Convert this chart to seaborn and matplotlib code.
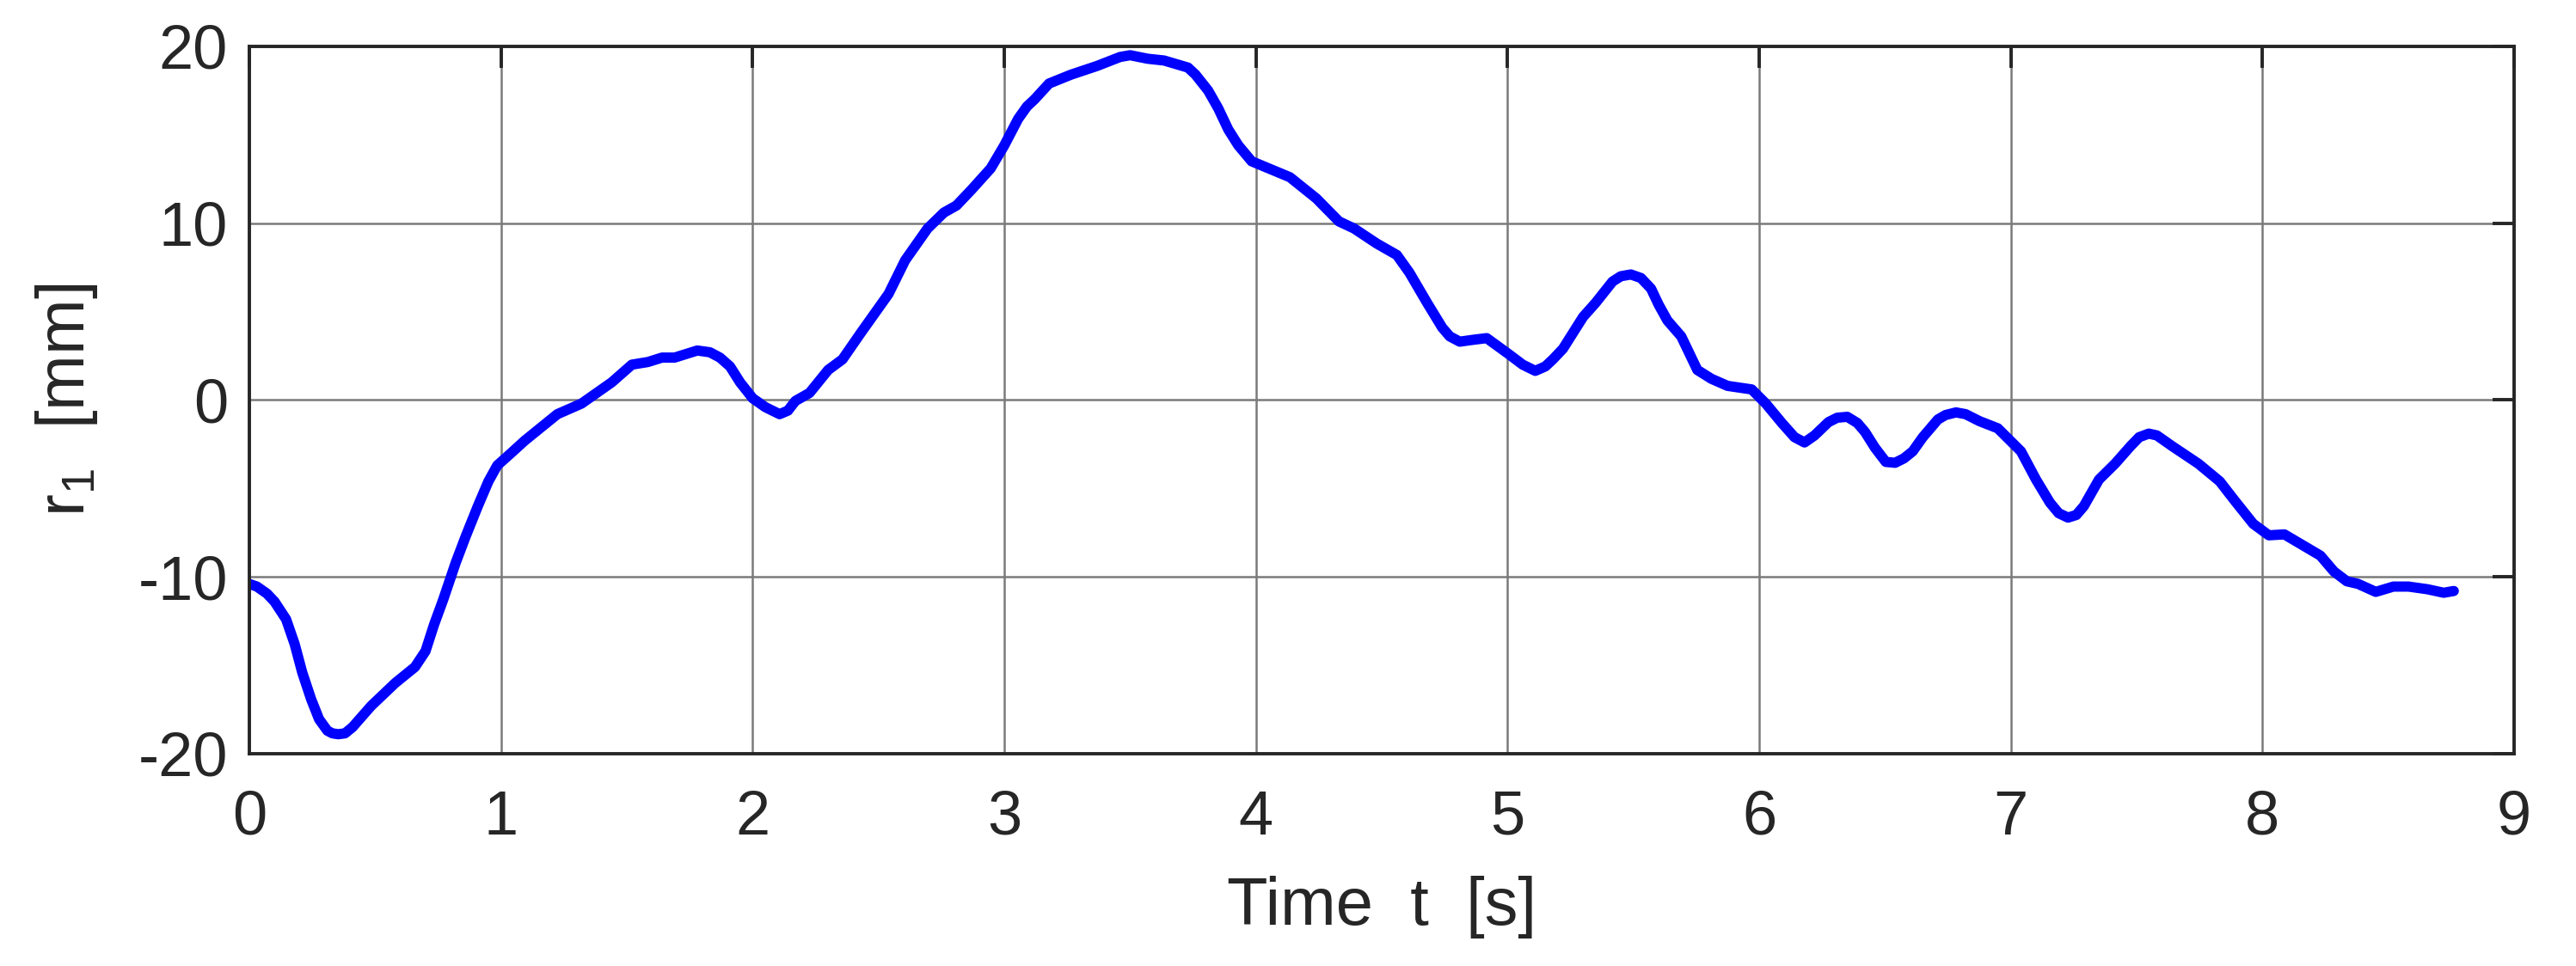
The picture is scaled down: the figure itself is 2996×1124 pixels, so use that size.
import pandas as pd
import numpy as np
import matplotlib
matplotlib.use('Agg')
import matplotlib.pyplot as plt
import seaborn as sns

# values
time_s = [0.00, 0.03, 0.07, 0.10, 0.146, 0.18, 0.21, 0.245, 0.277, 0.31, 0.33, 0.353,
          0.38, 0.41, 0.484, 0.58, 0.658, 0.70, 0.734, 0.77, 0.82, 0.86, 0.908, 0.95,
          0.985, 1.04, 1.094, 1.224, 1.32, 1.39, 1.44, 1.52, 1.584, 1.64, 1.69, 1.78,
          1.83, 1.87, 1.91, 1.95, 2.00, 2.05, 2.107, 2.14, 2.17, 2.226, 2.30, 2.357,
          2.43, 2.54, 2.606, 2.695, 2.76, 2.81, 2.87, 2.946, 3.00, 3.055, 3.09, 3.12,
          3.178, 3.265, 3.37, 3.46, 3.50, 3.57, 3.635, 3.73, 3.76, 3.81, 3.85, 3.89,
          3.93, 3.983, 4.135, 4.24, 4.33, 4.39, 4.48, 4.56, 4.61, 4.68, 4.74, 4.77,
          4.81, 4.86, 4.917, 5.004, 5.06, 5.11, 5.15, 5.18, 5.22, 5.30, 5.35, 5.417,
          5.45, 5.49, 5.53, 5.57, 5.60, 5.635, 5.69, 5.754, 5.81, 5.874, 5.97, 6.026,
          6.09, 6.14, 6.18, 6.22, 6.275, 6.31, 6.35, 6.39, 6.42, 6.46, 6.503, 6.54,
          6.575, 6.61, 6.65, 6.71, 6.74, 6.782, 6.82, 6.876, 6.948, 7.04, 7.10, 7.155,
          7.19, 7.227, 7.26, 7.29, 7.35, 7.414, 7.476, 7.51, 7.548, 7.58, 7.64, 7.745,
          7.83, 7.89, 7.963, 8.025, 8.087, 8.17, 8.23, 8.284, 8.335, 8.38, 8.45, 8.52,
          8.58, 8.655, 8.72, 8.76]
r1_mm = [-10.4, -10.55, -10.95, -11.4, -12.4, -13.8, -15.4, -16.9, -18.05, -18.7, -18.85, -18.9,
         -18.85, -18.5, -17.3, -16.0, -15.1, -14.2, -12.7, -11.3, -9.2, -7.7, -6.0, -4.6,
         -3.7, -3.0, -2.3, -0.8, -0.2, 0.5, 1.0, 2.0, 2.15, 2.4, 2.4, 2.8,
         2.7, 2.4, 1.9, 1.0, 0.1, -0.4, -0.8, -0.6, -0.05, 0.4, 1.7, 2.3,
         3.8, 6.0, 7.9, 9.7, 10.6, 11.0, 11.9, 13.1, 14.4, 15.9, 16.6, 17.0,
         17.9, 18.4, 18.9, 19.4, 19.5, 19.3, 19.2, 18.8, 18.4, 17.5, 16.5, 15.3,
         14.4, 13.5, 12.6, 11.4, 10.1, 9.7, 8.85, 8.2, 7.2, 5.5, 4.1, 3.6,
         3.3, 3.4, 3.5, 2.6, 2.0, 1.65, 1.9, 2.3, 2.9, 4.7, 5.5, 6.7,
         7.0, 7.1, 6.9, 6.3, 5.4, 4.5, 3.6, 1.7, 1.2, 0.8, 0.6, -0.2,
         -1.3, -2.1, -2.4, -2.0, -1.25, -1.0, -0.95, -1.3, -1.8, -2.7, -3.5, -3.55,
         -3.3, -2.9, -2.1, -1.1, -0.85, -0.7, -0.8, -1.2, -1.6, -2.9, -4.5, -5.8,
         -6.4, -6.65, -6.5, -6.0, -4.5, -3.6, -2.6, -2.1, -1.9, -2.0, -2.6, -3.6,
         -4.6, -5.7, -7.0, -7.65, -7.6, -8.3, -8.8, -9.7, -10.25, -10.4, -10.85, -10.55,
         -10.55, -10.7, -10.9, -10.8]
x_ticks = [0, 1, 2, 3, 4, 5, 6, 7, 8, 9]
y_ticks = [-20, -10, 0, 10, 20]

df = pd.DataFrame({'t': time_s, 'r1': r1_mm})

sns.set_style('white')
plt.rcParams['font.family'] = ['Liberation Sans', 'DejaVu Sans']
plt.rcParams['mathtext.default'] = 'regular'
plt.rcParams['axes.unicode_minus'] = False
dark = '#262626'

fig, ax = plt.subplots(figsize=(14.98, 5.62), dpi=200)
fig.subplots_adjust(left=0.0968, right=0.976, top=0.952, bottom=0.2198)

sns.lineplot(data=df, x='t', y='r1', ax=ax, color='#0000ff', linewidth=4.3, sort=False)
for ln in ax.get_lines():
    ln.set_solid_joinstyle('round')

ax.set_xlim(0, 9)
ax.set_ylim(-20, 20)
ax.set_xticks(x_ticks)
ax.set_yticks(y_ticks)
ax.grid(True, color='#7a7a7a', linewidth=0.9)
for s in ax.spines.values():
    s.set_color(dark)
    s.set_linewidth(1.4)
ax.tick_params(direction='in', length=9, width=1.4, color=dark, labelcolor=dark,
               labelsize=26, top=True, right=True)
ax.tick_params(axis='x', pad=15)
ax.tick_params(axis='y', pad=9)
ax.set_xlabel('Time  t  [s]', fontsize=28, color=dark, labelpad=12)
ax.set_ylabel(r'r$_1$  [mm]', fontsize=28, color=dark, labelpad=16)

plt.savefig('out.png', dpi=200)
